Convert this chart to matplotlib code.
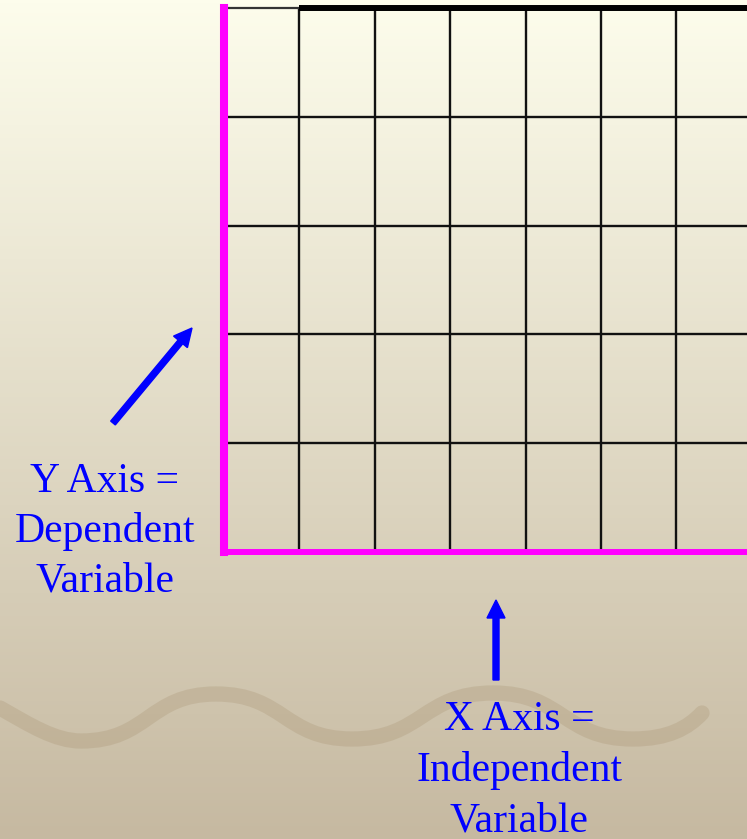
import matplotlib
matplotlib.use("Agg")
import matplotlib.pyplot as plt
import numpy as np
from matplotlib.path import Path
from matplotlib.patches import PathPatch

# blank graph paper: 7 columns x 5 rows (last column runs off the page)
n_cols = 7
n_rows = 5
col_lines = list(range(n_cols + 1))
row_lines = list(range(n_rows + 1))

# labels
y_label = ["Y Axis =", "Dependent", "Variable"]
x_label = ["X Axis =", "Independent", "Variable"]

# decorative wave, key points (pixels)
wave_x = [0, 81, 216, 352, 493, 633, 702]
wave_y = [708, 741, 694, 739, 693, 739, 713]

W, H = 747, 839
fig = plt.figure(figsize=(W / 100, H / 100), dpi=100)

# background in pixel coordinates
bg = fig.add_axes([0, 0, 1, 1])
bg.set_xlim(0, W)
bg.set_ylim(H, 0)
bg.axis("off")
top = np.array([253, 253, 236]) / 255
bottom = np.array([198, 185, 161]) / 255
t = np.linspace(0, 1, 256)[:, None]
grad = top * (1 - t) + bottom * t
bg.imshow(grad[:, None, :], extent=[0, W, H, 0], aspect="auto", zorder=0)

# wave as cubic bezier segments
verts = [(wave_x[0], wave_y[0])]
codes = [Path.MOVETO]
verts += [(30, 725), (55, 741), (wave_x[1], wave_y[1])]
codes += [Path.CURVE4] * 3
for i in range(1, len(wave_x) - 2):
    x0, y0 = wave_x[i], wave_y[i]
    x1, y1 = wave_x[i + 1], wave_y[i + 1]
    dx = x1 - x0
    verts += [(x0 + 0.5 * dx, y0), (x1 - 0.5 * dx, y1), (x1, y1)]
    codes += [Path.CURVE4] * 3
verts += [(668, 739), (688, 728), (wave_x[-1], wave_y[-1])]
codes += [Path.CURVE4] * 3
bg.add_patch(PathPatch(Path(verts, codes), facecolor="none",
                       edgecolor="#9c8460", alpha=0.22, lw=11,
                       capstyle="round", zorder=1))

# labels and arrows
for i, s in enumerate(y_label):
    bg.text(105, 492 + 50 * i, s, ha="center", va="baseline", fontsize=30,
            color="#0000ff", family="Liberation Serif", zorder=3)
for i, s in enumerate(x_label):
    bg.text(519, 730 + 51 * i, s, ha="center", va="baseline", fontsize=30,
            color="#0000ff", family="Liberation Serif", zorder=3)

bg.arrow(113, 423, 192 - 113, 328 - 423, width=6, head_width=18,
         head_length=18, length_includes_head=True, color="#0000ff", zorder=3)
bg.arrow(496, 680, 0, -80, width=6, head_width=18,
         head_length=18, length_includes_head=True, color="#0000ff", zorder=3)

# the grid itself
left, right, ytop, ybot = 224, 751.8, 8, 552
ax = fig.add_axes([left / W, 1 - ybot / H, (right - left) / W, (ybot - ytop) / H])
ax.set_xlim(0, n_cols)
ax.set_ylim(0, n_rows)
ax.patch.set_alpha(0)
ax.set_xticks([])
ax.set_yticks([])
ax.vlines(col_lines[1:], 0, n_rows, color="#111111", lw=1.7, clip_on=False)
ax.hlines(row_lines[1:-1], 0, n_cols, color="#111111", lw=1.7, clip_on=False)
ax.hlines(n_rows, 0, 1, color="#333333", lw=1.6, clip_on=False)
ax.hlines(n_rows, 1, n_cols, color="black", lw=4.3, clip_on=False)
ax.spines["top"].set_visible(False)
ax.spines["right"].set_visible(False)
ax.spines["left"].set_color("#ff00ff")
ax.spines["left"].set_linewidth(5.8)
ax.spines["bottom"].set_color("#ff00ff")
ax.spines["bottom"].set_linewidth(4.3)

fig.savefig("out.png", dpi=100)
